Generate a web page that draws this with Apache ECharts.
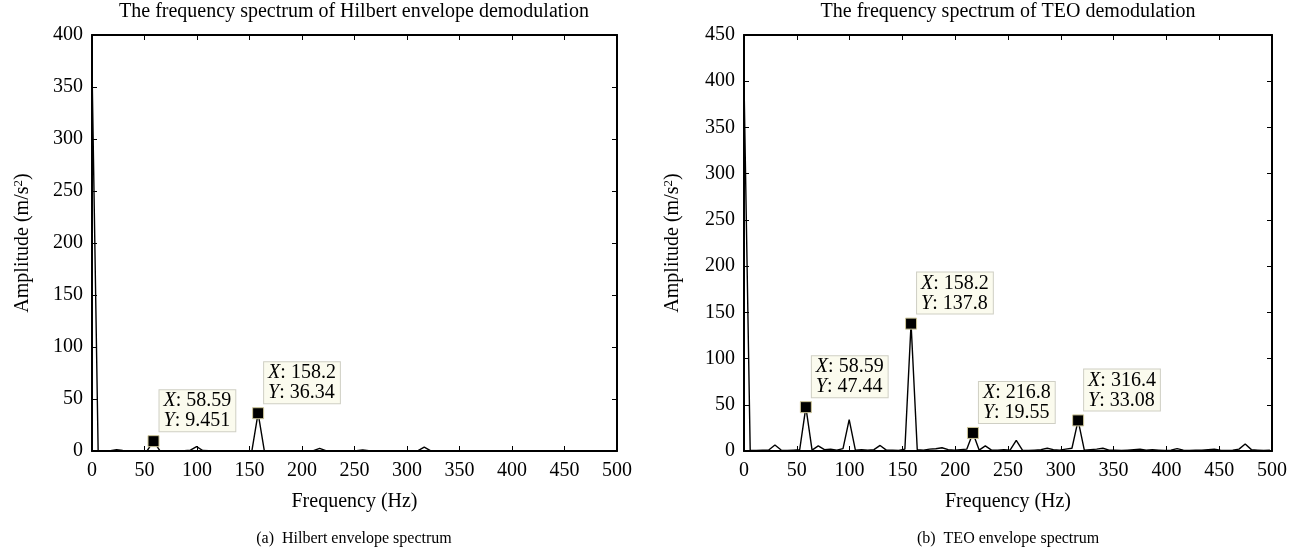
<!DOCTYPE html>
<html>
<head>
<meta charset="utf-8">
<script src="https://cdn.jsdelivr.net/npm/echarts@6/dist/echarts.min.js"></script>
<style>
  html, body { margin: 0; padding: 0; background: #fff; }
  #chart { width: 1296px; height: 558px; }
</style>
</head>
<body>
<div id="chart"></div>
<script>
// FFT bin width of both envelope spectra (Hz)
const freqStep = 5.859375;

// Amplitude per frequency bin, Hilbert envelope spectrum (m/s^2)
const hilbertAmp = [
  370, 0.3, 0.2, 0.4, 1.2, 0.6, 0.2, 0.2, 0.3, 0.6,
  9.451, 0.6, 0.2, 0.2, 0.3, 0.4, 0.8, 4.2, 0.5, 0.2,
  0.2, 0.2, 0.3, 0.2, 0.2, 0.3, 0.6, 36.34, 0.6, 0.2,
  0.2, 0.2, 0.2, 0.2, 0.2, 0.3, 0.4, 2.6, 0.4, 0.2,
  0.2, 0.2, 0.2, 0.3, 1.0, 0.3, 0.2, 0.2, 0.2, 0.2,
  0.2, 0.2, 0.2, 0.4, 3.8, 0.4, 0.2, 0.2, 0.2, 0.2,
  0.2, 0.2, 0.2, 0.2, 0.2, 0.2, 0.2, 0.2, 0.2, 0.2,
  0.2, 0.2, 0.2, 0.2, 0.2, 0.2, 0.2, 0.2, 0.2, 0.2,
  0.2, 0.2, 0.2, 0.2, 0.2, 0.2
];

// Amplitude per frequency bin, TEO envelope spectrum (m/s^2)
const teoAmp = [
  400, 1, 0.5, 1, 1, 6.5, 1, 0.5, 1, 1.5,
  47.44, 1, 5.5, 1.5, 2, 1, 2.5, 34, 1, 1.5,
  1, 1.5, 6, 1, 1, 0.5, 2, 137.8, 1.5, 1,
  2, 2.5, 3.5, 1.5, 1, 1.5, 2, 19.55, 1, 5.5,
  1, 1, 1.5, 1, 11.5, 1, 0.5, 1, 1.5, 3,
  1.5, 1, 2, 3, 33.08, 1, 1.5, 2, 3, 1,
  1, 0.5, 1, 1.5, 2, 1, 1.5, 1, 0.5, 1,
  2.5, 1, 0.5, 1, 1, 1.5, 2, 1, 0.5, 1,
  2, 7.5, 1.5, 1, 0.5, 1
];

// Data-tip points [frequency, amplitude]
const hilbertTips = [[58.59, 9.451], [158.2, 36.34]];
const teoTips = [[58.59, 47.44], [158.2, 137.8], [216.8, 19.55], [316.4, 33.08]];

// Axis ranges
const xMax = 500, xStep = 50;
const hilbertYMax = 400, teoYMax = 450, yStep = 50;

const titles = [
  'The frequency spectrum of Hilbert envelope demodulation',
  'The frequency spectrum of TEO demodulation'
];
const captions = ['(a)  Hilbert envelope spectrum', '(b)  TEO envelope spectrum'];
const xName = 'Frequency (Hz)';
const yNameRich = 'Amplitude (m/s{sup|2})';

const FONT = "'Liberation Serif', 'DejaVu Serif', serif";
const FS = 20;

const toPairs = amps => amps.map((v, i) => [i * freqStep, v]);

const grids = [
  { left: 92, top: 35, width: 525, height: 416 },
  { left: 744, top: 35, width: 528, height: 416 }
];

const lineW = 2;

function xAxes(gridIndex) {
  const common = {
    gridIndex, type: 'value', min: 0, max: xMax, interval: xStep,
    splitLine: { show: false },
    axisLine: { show: true, onZero: false, lineStyle: { color: '#000', width: lineW } },
    axisTick: { show: true, inside: true, length: 5, lineStyle: { color: '#000', width: 1 } }
  };
  return [
    Object.assign({}, common, {
      position: 'bottom',
      name: xName, nameLocation: 'middle', nameGap: 41,
      nameTextStyle: { fontFamily: FONT, fontSize: FS, color: '#000' },
      axisLabel: { show: true, margin: 10, fontFamily: FONT, fontSize: FS, color: '#000' }
    }),
    Object.assign({}, common, { position: 'top', axisLabel: { show: false } })
  ];
}

function yAxes(gridIndex, max, gap) {
  const common = {
    gridIndex, type: 'value', min: 0, max: max, interval: yStep,
    splitLine: { show: false },
    axisLine: { show: true, onZero: false, lineStyle: { color: '#000', width: lineW } },
    axisTick: { show: true, inside: true, length: 5, lineStyle: { color: '#000', width: 1 } }
  };
  return [
    Object.assign({}, common, {
      position: 'left',
      name: yNameRich, nameLocation: 'middle', nameGap: gap, nameRotate: 90,
      nameTextStyle: {
        fontFamily: FONT, fontSize: FS, color: '#000', lineHeight: 22,
        rich: { sup: { fontFamily: FONT, fontSize: 13, color: '#000', verticalAlign: 'top', lineHeight: 22, padding: [0, 0, 8, 0] } }
      },
      axisLabel: { show: true, margin: 9, fontFamily: FONT, fontSize: FS, color: '#000' }
    }),
    Object.assign({}, common, { position: 'right', axisLabel: { show: false } })
  ];
}

function tipSeries(points, xIdx, yIdx) {
  return {
    type: 'scatter', xAxisIndex: xIdx, yAxisIndex: yIdx,
    data: points, symbol: 'rect', symbolSize: 11, z: 5,
    itemStyle: { color: '#000', opacity: 1, borderColor: '#cfc79a', borderWidth: 1 },
    label: {
      show: true,
      position: [12, -4],
      align: 'left', verticalAlign: 'bottom',
      formatter: p => '{i|X}: ' + p.value[0] + '\n{i|Y}: ' + p.value[1],
      fontFamily: FONT, fontSize: FS, color: '#000', lineHeight: 20,
      backgroundColor: '#fbfbee', borderColor: '#cfcfc4', borderWidth: 1,
      padding: [1, 4, 0, 4],
      rich: { i: { fontStyle: 'italic', fontFamily: FONT, fontSize: FS, lineHeight: 20, color: '#000' } }
    },
    emphasis: { disabled: true }
  };
}

function lineSeries(amps, xIdx, yIdx) {
  return {
    type: 'line', xAxisIndex: xIdx, yAxisIndex: yIdx,
    data: toPairs(amps), showSymbol: false, symbol: 'none',
    lineStyle: { color: '#000', width: 1.4 }, z: 3
  };
}

function centerText(text, cx, cy, size) {
  return {
    type: 'text', x: cx, y: cy,
    style: { text, fontFamily: FONT, fontSize: size, fill: '#000', align: 'center', verticalAlign: 'middle' }
  };
}

const chart = echarts.init(document.getElementById('chart'), null, { renderer: 'canvas' });
chart.setOption({
  animation: false,
  backgroundColor: '#fff',
  grid: grids,
  xAxis: [...xAxes(0), ...xAxes(1)],
  yAxis: [...yAxes(0, hilbertYMax, 58), ...yAxes(1, teoYMax, 60)],
  series: [
    lineSeries(hilbertAmp, 0, 0),
    tipSeries(hilbertTips, 0, 0),
    lineSeries(teoAmp, 2, 2),
    tipSeries(teoTips, 2, 2)
  ],
  graphic: [
    centerText(titles[0], 354, 12, FS),
    centerText(titles[1], 1008, 12, FS),
    centerText(captions[0], 354, 539, 16),
    centerText(captions[1], 1008, 539, 16)
  ]
});
</script>
</body>
</html>
